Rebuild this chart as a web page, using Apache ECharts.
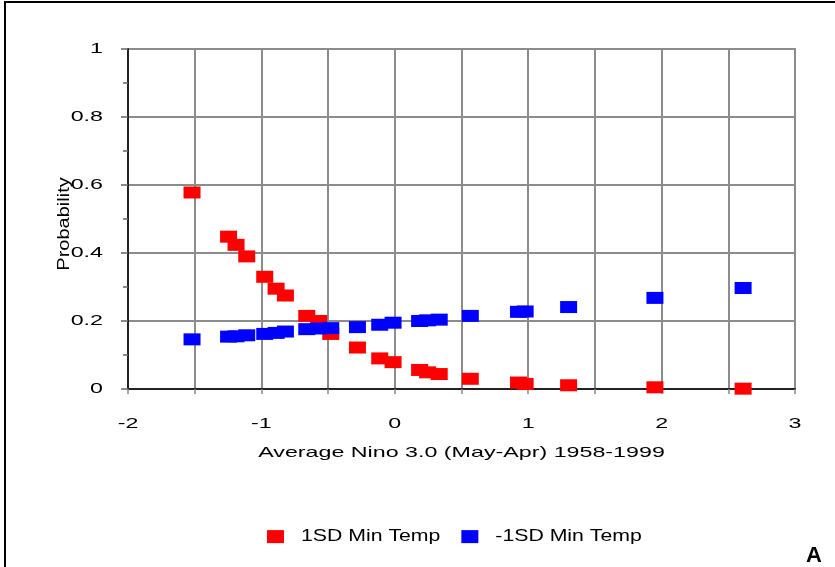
<!DOCTYPE html>
<html>
<head>
<meta charset="utf-8">
<script src="https://cdn.jsdelivr.net/npm/echarts@6/dist/echarts.min.js"></script>
<style>
html,body{margin:0;padding:0;background:#fff;}
#chart{width:835px;height:567px;}
</style>
</head>
<body>
<div id="chart"></div>
<script>
// Average Nino 3.0 (May-Apr) values
var ninoValues = [-1.52, -1.246, -1.19, -1.11, -0.975, -0.89, -0.82, -0.66, -0.57, -0.48, -0.28, -0.113, -0.013, 0.186, 0.246, 0.333, 0.566, 0.927, 0.977, 1.303, 1.95, 2.611];
// Probability of +1SD min temp
var probPlus1SD = [0.578, 0.448, 0.424, 0.390, 0.330, 0.295, 0.275, 0.215, 0.200, 0.162, 0.122, 0.090, 0.079, 0.056, 0.049, 0.044, 0.030, 0.019, 0.015, 0.011, 0.005, 0.001];
// Probability of -1SD min temp
var probMinus1SD = [0.146, 0.154, 0.155, 0.158, 0.162, 0.165, 0.169, 0.176, 0.178, 0.179, 0.182, 0.189, 0.195, 0.200, 0.202, 0.204, 0.215, 0.227, 0.228, 0.241, 0.268, 0.297];
var seriesNames = ['1SD Min Temp', '-1SD Min Temp'];
var xAxisTitle = 'Average Nino 3.0 (May-Apr) 1958-1999';
var yAxisTitle = 'Probability';
var panelLetter = 'A';

// The reference uses a horizontally wide bitmap-style font: stretch regular text glyphs horizontally
(function () {
  var P = CanvasRenderingContext2D.prototype;
  var origFill = P.fillText, origMeasure = P.measureText;
  function factor(ctx) {
    var f = ctx.font;
    if (/bold/.test(f)) { return 1; }
    return /\b15px/.test(f) ? 1.55 : 1.25;
  }
  P.fillText = function (t, x, y, mw) {
    var s = factor(this);
    if (s === 1) { return origFill.apply(this, arguments); }
    this.save(); this.translate(x, y); this.scale(s, 1);
    origFill.call(this, t, 0, 0);
    this.restore();
  };
  P.measureText = function (t) {
    var m = origMeasure.call(this, t), s = factor(this);
    if (s === 1) { return m; }
    return {
      width: m.width * s,
      actualBoundingBoxAscent: m.actualBoundingBoxAscent,
      actualBoundingBoxDescent: m.actualBoundingBoxDescent,
      actualBoundingBoxLeft: m.actualBoundingBoxLeft * s,
      actualBoundingBoxRight: m.actualBoundingBoxRight * s,
      fontBoundingBoxAscent: m.fontBoundingBoxAscent,
      fontBoundingBoxDescent: m.fontBoundingBoxDescent
    };
  };
})();

function pairs(xs, ys) { return xs.map(function (x, i) { return [x, ys[i]]; }); }

var font = 'Liberation Sans, Arial, sans-serif';
var chart = echarts.init(document.getElementById('chart'), null, {renderer: 'canvas'});
chart.setOption({
  animation: false,
  backgroundColor: '#fff',
  grid: {left: 128, right: 40, top: 49, bottom: 178, show: true, borderColor: '#333', borderWidth: 1.5, containLabel: false},
  xAxis: {
    type: 'value', min: -2, max: 3, interval: 0.5,
    name: xAxisTitle, nameLocation: 'middle', nameGap: 52, nameMoveOverlap: false,
    nameTextStyle: {color: '#000', fontSize: 15, fontFamily: font},
    axisLine: {show: true, onZero: false, lineStyle: {color: '#222', width: 2}},
    axisTick: {show: true, length: 5, lineStyle: {color: '#888', width: 1.5}},
    axisLabel: {color: '#000', fontSize: 15, fontFamily: font, margin: 23,
      formatter: function (v) { return Math.abs(v - Math.round(v)) < 1e-9 ? String(Math.round(v)) : ''; }},
    splitLine: {show: true, lineStyle: {color: '#8c8c8c', width: 2}}
  },
  yAxis: {
    type: 'value', min: 0, max: 1, interval: 0.2,
    name: yAxisTitle, nameLocation: 'middle', nameGap: 53, nameMoveOverlap: false,
    nameTextStyle: {color: '#000', fontSize: 16, fontFamily: font, padding: [0, 10, 0, 0]},
    axisLine: {show: true, onZero: false, lineStyle: {color: '#222', width: 2}},
    axisTick: {show: true, length: 7, lineStyle: {color: '#666', width: 1.5}},
    minorTick: {show: true, splitNumber: 2, length: 5, lineStyle: {color: '#666', width: 1.5}},
    axisLabel: {color: '#000', fontSize: 15, fontFamily: font, margin: 25},
    splitLine: {show: true, lineStyle: {color: '#8c8c8c', width: 2}}
  },
  legend: {
    top: 521, left: 262, itemWidth: 17, itemHeight: 13, itemGap: 21,
    icon: 'rect',
    textStyle: {color: '#000', fontSize: 17, fontFamily: font, padding: [0, 0, 0, 12]},
    data: seriesNames
  },
  series: [
    {name: seriesNames[0], type: 'scatter', symbol: 'rect', symbolSize: [17, 12],
     itemStyle: {color: '#ff0000', opacity: 1}, data: pairs(ninoValues, probPlus1SD)},
    {name: seriesNames[1], type: 'scatter', symbol: 'rect', symbolSize: [17, 12],
     itemStyle: {color: '#0000ff', opacity: 1}, data: pairs(ninoValues, probMinus1SD)}
  ],
  graphic: [
    {type: 'rect', shape: {x: 5, y: 2, width: 900, height: 700}, silent: true,
     style: {fill: 'none', stroke: '#000', lineWidth: 2}},
    {type: 'text', left: 806, top: 545, silent: true,
     style: {text: panelLetter, fill: '#000', font: 'bold 22px ' + font}}
  ]
});
</script>
</body>
</html>
